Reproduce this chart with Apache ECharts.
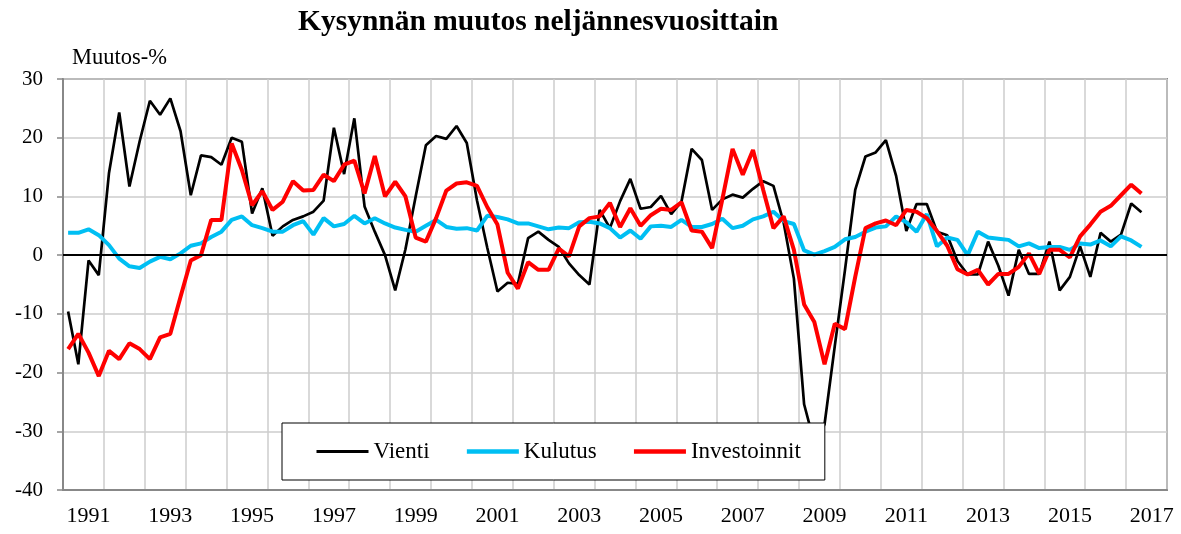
<!DOCTYPE html>
<html>
<head>
<meta charset="utf-8">
<script src="https://cdn.jsdelivr.net/npm/echarts@6/dist/echarts.min.js"></script>
<style>
html,body{margin:0;padding:0;background:#fff;}
#chart{width:1181px;height:534px;}
</style>
</head>
<body>
<div id="chart"></div>
<script>
// Quarterly categories 1990Q3 .. 2017Q2
const categories = [];
for (let y = 1990; y <= 2017; y++) {
  for (let q = 1; q <= 4; q++) {
    if ((y === 1990 && q < 3) || (y === 2017 && q > 2)) continue;
    categories.push(y + 'Q' + q);
  }
}
const seriesNames = ['Vienti', 'Kulutus', 'Investoinnit'];
const yTicks = [-40, -30, -20, -10, 0, 10, 20, 30];

const vienti = [
 -9.6,-18.6,-0.9,-3.4,14.0,24.3,11.7,19.4,26.3,23.9,
 26.7,21.1,10.2,17.0,16.7,15.4,20.0,19.3,7.1,11.4,
 3.3,4.9,6.0,6.6,7.4,9.3,21.7,13.8,23.3,8.3,
 4.0,0.0,-6.0,1.0,10.0,18.7,20.3,19.8,22.0,19.1,
 9.3,1.3,-6.2,-4.7,-4.9,2.9,4.0,2.6,1.4,-1.4,
 -3.4,-5.0,7.7,4.6,9.2,13.0,7.9,8.2,10.1,7.0,
 9.1,18.1,16.2,7.7,9.5,10.3,9.8,11.3,12.6,11.8,
 5.5,-4.0,-25.4,-32.0,-28.8,-15.5,-2.5,11.1,16.8,17.5,
 19.6,13.5,4.1,8.7,8.7,4.0,3.4,-1.0,-3.3,-3.3,
 2.3,-1.8,-6.9,0.9,-3.2,-3.2,2.3,-6.0,-3.7,1.5,
 -3.7,3.8,2.3,3.5,8.8,7.3
];
const kulutus = [
 3.8,3.8,4.4,3.4,1.7,-0.6,-1.9,-2.2,-1.1,-0.3,
 -0.7,0.3,1.6,2.0,3.1,4.0,6.0,6.6,5.1,4.6,
 4.0,4.0,5.1,5.8,3.5,6.3,4.9,5.3,6.7,5.4,
 6.3,5.4,4.7,4.3,4.0,5.0,6.0,4.8,4.5,4.6,
 4.2,6.7,6.5,6.1,5.4,5.4,4.9,4.4,4.7,4.6,
 5.6,5.7,5.4,4.6,3.0,4.2,2.8,4.9,5.0,4.8,
 6.0,4.8,4.8,5.3,6.2,4.6,5.0,6.1,6.6,7.4,
 5.8,5.3,0.8,0.1,0.7,1.4,2.7,3.1,4.0,4.7,
 4.9,6.6,5.6,4.0,7.0,1.5,3.0,2.6,0.0,4.0,
 3.0,2.8,2.6,1.5,2.0,1.2,1.4,1.4,0.9,2.0,
 1.8,2.5,1.5,3.2,2.5,1.4
];
const investoinnit = [
 -16.0,-13.4,-16.6,-20.6,-16.3,-17.7,-15.0,-16.0,-17.7,-14.0,
 -13.4,-7.1,-0.9,0.0,6.0,6.0,19.0,14.5,8.5,10.9,
 7.7,9.1,12.6,11.0,11.1,13.7,12.6,15.4,16.1,10.5,
 16.9,10.0,12.5,10.0,3.0,2.3,6.3,11.0,12.2,12.4,
 11.8,8.2,5.2,-3.0,-5.7,-1.2,-2.5,-2.5,1.1,-0.2,
 4.9,6.3,6.6,8.9,4.8,8.0,5.0,6.8,7.9,7.7,
 9.0,4.2,4.0,1.2,9.5,18.1,13.7,17.9,11.1,4.6,
 6.6,0.9,-8.4,-11.4,-18.6,-11.7,-12.6,-3.7,4.6,5.4,
 5.9,5.1,7.7,7.4,6.3,4.1,1.6,-2.4,-3.3,-2.5,
 -5.0,-3.2,-3.2,-2.0,0.3,-3.2,0.9,0.9,-0.4,3.2,
 5.2,7.4,8.4,10.2,12.0,10.5
];

const FONT = '"Liberation Serif", "Times New Roman", serif';
const chart = echarts.init(document.getElementById('chart'), null, {renderer: 'canvas'});
chart.setOption({
  animation: false,
  backgroundColor: '#fff',
  title: [
    {text: 'Kysynnän muutos neljännesvuosittain', left: 293, top: 2,
     textStyle: {fontFamily: FONT, fontWeight: 'bold', fontSize: 29.5, color: '#000'}},
    {text: 'Muutos-%', left: 67, top: 42,
     textStyle: {fontFamily: FONT, fontWeight: 'normal', fontSize: 22.5, color: '#000'}}
  ],
  legend: {
    data: [
      {name: seriesNames[0], lineStyle: {width: 3}},
      {name: seriesNames[1], lineStyle: {width: 4.5}},
      {name: seriesNames[2], lineStyle: {width: 4.5}}
    ],
    left: 282, top: 423,
    padding: [17, 24, 17, 33],
    itemGap: 35,
    itemWidth: 52, itemHeight: 3,
    itemStyle: {opacity: 0, borderWidth: 0},
    lineStyle: {width: 'inherit'},
    borderColor: '#000', borderWidth: 1,
    backgroundColor: '#fff',
    textStyle: {fontFamily: FONT, fontSize: 23, color: '#000'}
  },
  grid: {left: 63, right: 14, top: 79, bottom: 44, show: true,
         borderColor: '#888', borderWidth: 2, backgroundColor: 'transparent'},
  xAxis: {
    type: 'category', data: categories, boundaryGap: true,
    axisLine: {onZero: false, lineStyle: {color: '#888', width: 2}},
    axisTick: {show: false},
    axisLabel: {interval: function (i) { return i % 8 === 2; },
                formatter: function (v) { return v.slice(0, 4); },
                fontFamily: FONT, fontSize: 22, color: '#000', margin: 15},
    splitLine: {show: true, interval: function (i) { return i % 4 === 0; },
                lineStyle: {color: '#cccccc', width: 1.5}}
  },
  yAxis: {
    type: 'value', min: -40, max: 30, interval: 10,
    axisLine: {show: true, lineStyle: {color: '#888', width: 2}},
    axisTick: {show: true, length: 6, lineStyle: {color: '#888', width: 1.5}},
    axisLabel: {fontFamily: FONT, fontSize: 21, color: '#000', margin: 20,
                formatter: function (v) { return yTicks.indexOf(v) >= 0 ? String(v) : ''; }},
    splitLine: {show: true, lineStyle: {color: '#cccccc', width: 1.5}}
  },
  series: [
    {name: seriesNames[0], type: 'line', data: vienti, symbol: 'none', color: '#000',
     lineStyle: {color: '#000', width: 2.7},
     markLine: {silent: true, symbol: ['none', 'none'], label: {show: false},
                lineStyle: {color: '#000', width: 2, type: 'solid'},
                data: [{yAxis: 0}]}},
    {name: seriesNames[1], type: 'line', data: kulutus, symbol: 'none', color: '#00BFF3',
     lineStyle: {color: '#00BFF3', width: 4}},
    {name: seriesNames[2], type: 'line', data: investoinnit, symbol: 'none', color: '#FF0000',
     lineStyle: {color: '#FF0000', width: 4}}
  ]
});
</script>
</body>
</html>
